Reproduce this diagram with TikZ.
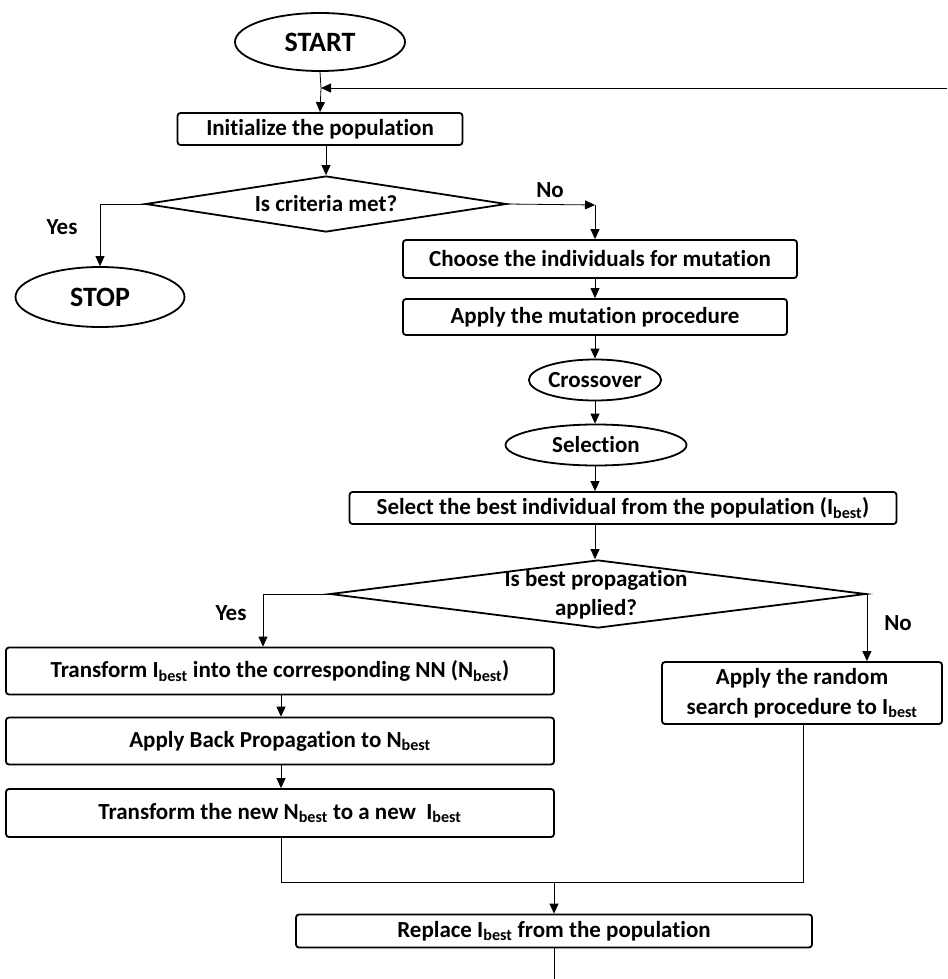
\documentclass[tikz,border=0pt]{standalone}
\usepackage{fontspec}
\setmainfont{Carlito}[Ligatures={NoCommon}]
\usetikzlibrary{shapes.geometric,arrows.meta}
\tikzset{
  box/.style={draw, line width=1.8pt, rounded corners=3pt, inner sep=0pt, align=center, font=\bfseries\fontsize{23}{28}\selectfont},
  term/.style={draw, ellipse, line width=1.8pt, inner sep=0pt, font=\bfseries\fontsize{28}{32}\selectfont},
  oval/.style={draw, ellipse, line width=1.8pt, inner sep=0pt, font=\bfseries\fontsize{23}{28}\selectfont},
  dec/.style={draw, diamond, line width=1.8pt, inner sep=0pt, align=center, font=\bfseries\fontsize{23}{28}\selectfont},
  lbl/.style={font=\bfseries\fontsize{23}{28}\selectfont},
  conn/.style={line width=0.8pt},
  arr/.style={conn, -{Triangle[length=10pt,width=9pt]}}
}
\newcommand{\bst}{\textsubscript{best}}
\begin{document}
\begin{tikzpicture}[x=1pt,y=-1pt]
\useasboundingbox (0,0) rectangle (947,979);
\node[term, minimum width=170, minimum height=58] (start) at (320,42) {START};
\coordinate (loopR) at (947,88);
\coordinate (loopJ) at (321,88);
\node[box, minimum width=285, minimum height=32] (init) at (320,129) {Initialize the population};
\node[dec, shape aspect=6.4, minimum width=361, minimum height=56] (crit) at (326,204) {};
\node[lbl] at (326,204) {Is criteria met?};
\node[term, minimum width=169, minimum height=60] (stop) at (100,297) {STOP};
\coordinate (noJ) at (595,205);
\node[box, minimum width=394, minimum height=38] (choose) at (600,259) {Choose the individuals for mutation};
\node[box, minimum width=384, minimum height=36] (mut) at (595,317) {Apply the mutation procedure};
\node[oval, minimum width=124, minimum height=41] (cross) at (595,380) {Crossover};
\node[oval, minimum width=181, minimum height=41] (sel) at (596,445) {Selection};
\node[box, minimum width=547, minimum height=32] (best) at (623,508) {Select the best individual from the population (I\bst)};
\node[dec, shape aspect=7.9, minimum width=536, minimum height=68] (crit2) at (598,594) {};
\node[lbl] at (596,580) {Is best propagation};
\node[lbl] at (596,609) {applied?};
\coordinate (yesJ) at (263,594);
\node[box, minimum width=548, minimum height=47] (t1) at (280,671) {Transform I\bst{} into the corresponding NN (N\bst)};
\node[box, minimum width=548, minimum height=47] (t2) at (280,741) {Apply Back Propagation to N\bst};
\node[box, minimum width=548, minimum height=48] (t3) at (280,813) {Transform the new N\bst{} to a new \ I\bst};
\node[box, minimum width=280, minimum height=62, font=\bfseries\fontsize{23}{30}\selectfont] (rand) at (802,693) {Apply the random\\search procedure to I\bst};
\coordinate (merge) at (554,882);
\node[box, minimum width=516, minimum height=33] (rep) at (554,931) {Replace I\bst{} from the population};
\coordinate (endC) at (554,979);
\node[lbl] at (550,190) {No};
\node[lbl] at (62,227) {Yes};
\node[lbl] at (231,613) {Yes};
\node[lbl] at (898,623) {No};
% connectors
\draw[conn] (start.south) -- (loopJ);
\draw[arr] (loopJ) -- (init.north);
\draw[arr] (loopR) -- (loopJ);
\draw[arr] (crit.north |- init.south) -- (crit.north);
\draw[arr] (crit.west) -| (stop.north);
\draw[arr] (crit.east) -- (noJ);
\draw[arr] (noJ) -- (noJ |- choose.north);
\draw[arr] (noJ |- choose.south) -- (noJ |- mut.north);
\draw[arr] (noJ |- mut.south) -- (cross.north);
\draw[arr] (cross.south) -- (noJ |- sel.north);
\draw[arr] (noJ |- sel.south) -- (noJ |- best.north);
\draw[arr] (noJ |- best.south) -- (noJ |- crit2.north);
\draw[conn] (crit2.west) -- (yesJ);
\draw[arr] (yesJ) -- (yesJ |- t1.north);
\draw[arr] (crit2.east) -- (crit2.east |- rand.north);
\draw[arr] (t1.south -| 281,0) -- (t2.north -| 281,0);
\draw[arr] (t2.south -| 281,0) -- (t3.north -| 281,0);
\draw[conn] (t3.south -| 281,0) -- (merge -| 281,0) -- (merge -| 803,0) -- (rand.south -| 803,0);
\draw[arr] (merge) -- (rep.north);
\draw[conn] (rep.south) -- (endC);
\end{tikzpicture}
\end{document}
